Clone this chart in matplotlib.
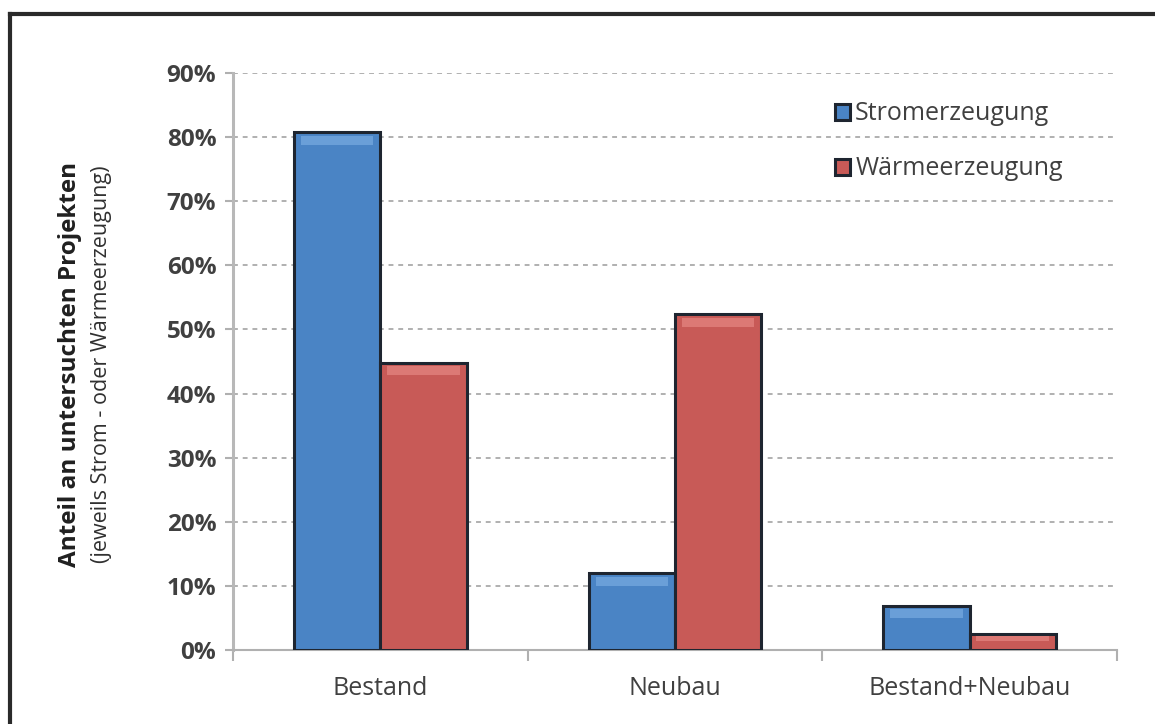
import numpy as np
import matplotlib.pyplot as plt
from matplotlib.lines import Line2D
from matplotlib.ticker import FuncFormatter, FixedLocator

plt.rcParams['font.family'] = ['Open Sans', 'DejaVu Sans']

categories = ['Bestand', 'Neubau', 'Bestand+Neubau']
strom = [0.808, 0.12, 0.069]
waerme = [0.448, 0.524, 0.025]
series_names = ['Stromerzeugung', 'Wärmeerzeugung']

blue = '#4a84c5'
red = '#c85a57'
edge = '#1e2530'
grey = '#b0b0b0'
text_col = '#404040'

fig = plt.figure(figsize=(11.55, 7.24), dpi=100)
ax = fig.add_axes([0.2017, 0.1022, 0.7653, 0.797])

x = np.arange(len(categories))
w = 0.293
b1 = ax.bar(x - w / 2, strom, w, color=blue, edgecolor=edge, linewidth=2.2,
            label=series_names[0], zorder=3)
b2 = ax.bar(x + w / 2, waerme, w, color=red, edgecolor=edge, linewidth=2.2,
            label=series_names[1], zorder=3)

# soft bevel along the top of each bar
for bars, hi in ((b1, '#6a9fd8'), (b2, '#dc7975')):
    for r in bars:
        h = r.get_height()
        band = min(0.014, h * 0.3)
        ax.bar(r.get_x() + r.get_width() / 2, band, r.get_width() * 0.84,
               bottom=h - band * 1.4, color=hi, linewidth=0, zorder=4)

ax.set_xlim(-0.5, 2.5)
ax.set_ylim(0, 0.9)
ax.set_yticks(np.arange(0, 0.91, 0.1))
ax.yaxis.set_major_formatter(FuncFormatter(lambda v, p: f'{v * 100:.0f}%'))
ax.set_xticks(x)
ax.set_xticklabels(categories)
ax.xaxis.set_minor_locator(FixedLocator([-0.5, 0.5, 1.5, 2.5]))
ax.tick_params(axis='x', which='major', length=0, pad=19, labelsize=18,
               labelcolor=text_col)
ax.tick_params(axis='x', which='minor', length=8, color=grey, width=1.5)
ax.tick_params(axis='y', length=6, color=grey, width=1.5, labelsize=17.5,
               labelcolor=text_col, pad=6)
for lab in ax.get_yticklabels():
    lab.set_fontweight('bold')

ax.grid(axis='y', color=grey, linestyle=(0, (2.5, 2.5)), linewidth=1.4, zorder=0)
for s in ('top', 'right'):
    ax.spines[s].set_visible(False)
ax.spines['left'].set_color('#b8b8b8')
ax.spines['left'].set_linewidth(2.2)
ax.spines['bottom'].set_color(grey)
ax.spines['bottom'].set_linewidth(1.5)

fig.text(0.061, 0.497, 'Anteil an untersuchten Projekten', rotation=90,
         ha='center', va='center', fontsize=17.5, fontweight='bold', color='#202020')
fig.text(0.088, 0.497, '(jeweils Strom - oder Wärmeerzeugung)', rotation=90,
         ha='center', va='center', fontsize=15.5, color='#303030')

leg = ax.legend(loc='upper left', bbox_to_anchor=(0.67, 0.968), frameon=False,
                fontsize=18, handlelength=0.6, handleheight=0.6,
                handletextpad=0.2, labelspacing=1.2, borderaxespad=0)
for t in leg.get_texts():
    t.set_color(text_col)

# outer frame
fig.add_artist(Line2D([0.009, 1.0], [0.981, 0.981], color='#2a2a2a', lw=3,
                      transform=fig.transFigure))
fig.add_artist(Line2D([0.009, 0.009], [0.0, 0.981], color='#2a2a2a', lw=3,
                      transform=fig.transFigure))

fig.savefig('out.png', dpi=100)
